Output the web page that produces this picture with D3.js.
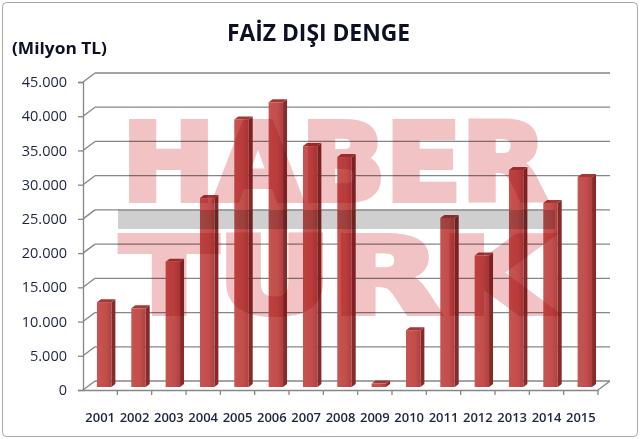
<!DOCTYPE html>
<html>
<head>
<meta charset="utf-8">
<script src="https://cdn.jsdelivr.net/npm/d3@7"></script>
<style>
  html, body { margin: 0; padding: 0; background: #fff; }
  svg { display: block; }
  .blend { mix-blend-mode: multiply; }
</style>
</head>
<body>
<div class="visualisation"></div>
<script>
// Chart data
const years = ["2001", "2002", "2003", "2004", "2005", "2006", "2007", "2008",
    "2009", "2010", "2011", "2012", "2013", "2014", "2015"];
const balance = [12400, 11500, 18300, 27600, 39100, 41600, 35200, 33600,
    500, 8300, 24700, 19200, 31700, 26900, 30700];
const yTicks = [0, 5000, 10000, 15000, 20000, 25000, 30000, 35000, 40000, 45000];
const titleText = "FAİZ DIŞI DENGE";
const unitText = "(Milyon TL)";
const markWords = ["HABER", "TURK"];

// Size related variables
const width = 640;
const height = 439;
const depth = { dx: 12, dy: -9 };     // 3d floor depth
const barDepth = { dx: 4, dy: -3 };   // bar thickness

const trFormat = d3.formatLocale({
    decimal: ",", thousands: ".", grouping: [3], currency: ["", " TL"]
}).format(",");

const svg = d3.select(".visualisation")
    .append("svg")
    .attr("width", width)
    .attr("height", height)
    .attr("viewBox", `0 0 ${width} ${height}`);

const x = d3.scaleBand()
    .domain(years)
    .range([83, 598]);

const y = d3.scaleLinear()
    .domain([0, 45000])
    .range([390, 82]);

// frame
svg.append("rect")
    .attr("x", 2.5).attr("y", 2.5)
    .attr("width", width - 5).attr("height", height - 5)
    .attr("rx", 4)
    .attr("fill", "#fff")
    .attr("stroke", "#a6a6a6");

// defs for bar shading
const defs = svg.append("defs");
const grad = defs.append("linearGradient").attr("id", "front")
    .attr("x1", 0).attr("x2", 1).attr("y1", 0).attr("y2", 0);
grad.append("stop").attr("offset", "0%").attr("stop-color", "#c85452");
grad.append("stop").attr("offset", "60%").attr("stop-color", "#c24e4c");
grad.append("stop").attr("offset", "100%").attr("stop-color", "#ae4140");

// back wall gridlines + left wall diagonals
const grid = svg.append("g");
const [x0, x1] = x.range();
grid.selectAll("line.grid")
    .data(yTicks)
    .enter()
    .append("line")
    .attr("class", "grid")
    .attr("x1", x0 + depth.dx).attr("x2", x1 + depth.dx)
    .attr("y1", d => y(d) + depth.dy).attr("y2", d => y(d) + depth.dy)
    .attr("stroke", "#868686")
    .attr("stroke-width", 1.3);
grid.selectAll("line.diag")
    .data(yTicks)
    .enter()
    .append("line")
    .attr("class", "diag")
    .attr("x1", x0).attr("x2", x0 + depth.dx)
    .attr("y1", d => y(d)).attr("y2", d => y(d) + depth.dy)
    .attr("stroke", "#868686")
    .attr("stroke-width", 1.3);
// floor right edge
grid.append("line")
    .attr("x1", x1).attr("x2", x1 + depth.dx)
    .attr("y1", y(0)).attr("y2", y(0) + depth.dy)
    .attr("stroke", "#868686")
    .attr("stroke-width", 1.3);

// bars
const barW = x.bandwidth() * 0.42;
const bars = svg.append("g")
    .selectAll("g.bar")
    .data(years.map((d, i) => ({ year: d, value: balance[i] })))
    .enter()
    .append("g")
    .attr("class", "bar");

const bx = d => x(d.year) + (x.bandwidth() - barW) / 2 + barDepth.dx;
const by0 = y(0) + barDepth.dy;
const byTop = d => y(d.value) + barDepth.dy;

bars.append("path")   // side face
    .attr("d", d => {
        const l = bx(d) + barW, t = byTop(d);
        return `M${l},${t} L${l + barDepth.dx},${t + barDepth.dy} L${l + barDepth.dx},${by0 + barDepth.dy} L${l},${by0} Z`;
    })
    .attr("fill", "#862b2a");
bars.append("path")   // top cap
    .attr("d", d => {
        const l = bx(d), t = byTop(d);
        return `M${l},${t} L${l + barDepth.dx},${t + barDepth.dy} L${l + barW + barDepth.dx},${t + barDepth.dy} L${l + barW},${t} Z`;
    })
    .attr("fill", "#a33837");
bars.append("rect")   // front face
    .attr("x", bx)
    .attr("y", byTop)
    .attr("width", barW)
    .attr("height", d => by0 - byTop(d))
    .attr("fill", "url(#front)");

// watermark (one text, two lines)
const mark = svg.append("g").attr("class", "watermark");
mark.append("rect")
    .attr("class", "blend")
    .attr("x", 118).attr("y", 210)
    .attr("width", 437).attr("height", 19)
    .attr("fill", "#cfcfcf");
const markText = mark.append("text")
    .attr("class", "blend")
    .style("font-family", "'DejaVu Sans', sans-serif")
    .style("font-weight", "bold")
    .attr("fill", "#f2c3c5")
    .attr("stroke", "#f2c3c5")
    .attr("stroke-width", 6)
    .attr("stroke-linejoin", "miter");
markText.append("tspan")
    .attr("x", 122).attr("y", 200)
    .attr("textLength", 425)
    .attr("lengthAdjust", "spacingAndGlyphs")
    .style("font-size", "107px")
    .text(markWords[0]);
markText.append("tspan")
    .attr("x", 121).attr("y", 313)
    .attr("textLength", 429)
    .attr("lengthAdjust", "spacingAndGlyphs")
    .style("font-size", "105px")
    .text(markWords[1]);

// axes
const yAxis = d3.axisLeft(y)
    .tickValues(yTicks)
    .tickFormat(trFormat)
    .tickSize(5)
    .tickPadding(11);
svg.append("g")
    .attr("transform", `translate(${x0},0)`)
    .call(yAxis)
    .call(g => g.selectAll("line, path").attr("stroke", "#868686").attr("stroke-width", 1.3))
    .call(g => g.selectAll("text")
        .style("font-family", "'Open Sans', sans-serif")
        .style("font-size", "14.5px")
        .style("font-weight", "500")
        .attr("fill", "#1d2440"));

const xAxis = d3.axisBottom(x)
    .tickSize(0)
    .tickPadding(23);
svg.append("g")
    .attr("transform", `translate(0,${y(0)})`)
    .call(xAxis)
    .call(g => g.select(".domain").attr("stroke", "#868686").attr("stroke-width", 1.3))
    .call(g => g.selectAll("text")
        .style("font-family", "'Open Sans', sans-serif")
        .style("font-size", "13px")
        .style("font-weight", "600")
        .attr("fill", "#1d2440"));
// tick marks at band boundaries
svg.append("g")
    .selectAll("line")
    .data(years.slice(1).concat(["end"]))
    .enter()
    .append("line")
    .attr("x1", d => d === "end" ? x1 : x(d))
    .attr("x2", d => d === "end" ? x1 : x(d))
    .attr("y1", y(0)).attr("y2", y(0) + 5)
    .attr("stroke", "#868686")
    .attr("stroke-width", 1.3);

// titles
svg.append("text")
    .attr("x", 227).attr("y", 41)
    .attr("textLength", 183)
    .attr("lengthAdjust", "spacingAndGlyphs")
    .style("font-family", "'Open Sans', sans-serif")
    .style("font-weight", "bold")
    .style("font-size", "24px")
    .attr("fill", "#0d0f24")
    .text(titleText);

svg.append("text")
    .attr("x", 12).attr("y", 54)
    .attr("textLength", 95)
    .attr("lengthAdjust", "spacingAndGlyphs")
    .style("font-family", "'Open Sans', sans-serif")
    .style("font-weight", "bold")
    .style("font-size", "15.5px")
    .attr("fill", "#0d0f24")
    .text(unitText);
</script>
</body>
</html>
